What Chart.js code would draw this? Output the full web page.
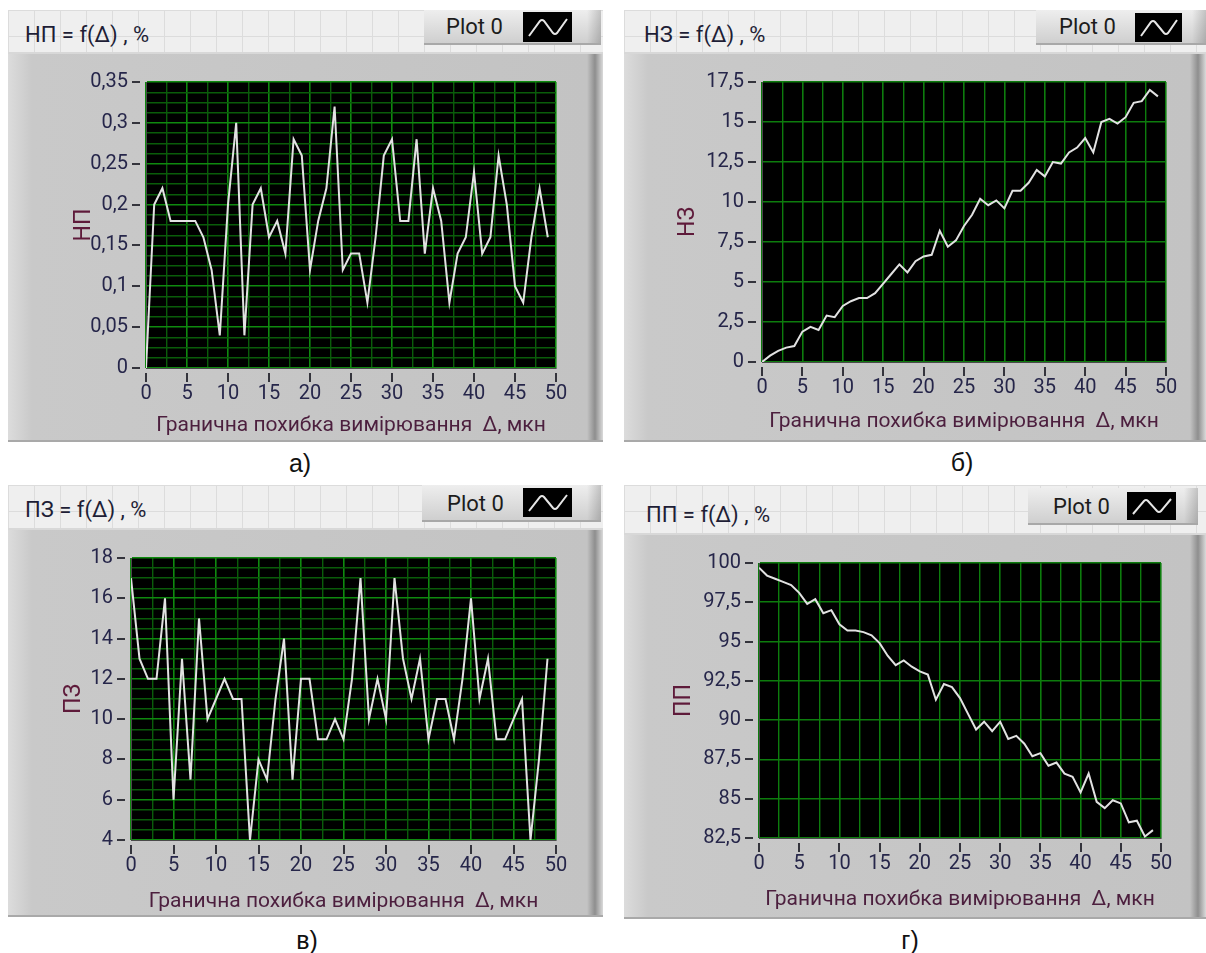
<!DOCTYPE html>
<html>
<head>
<meta charset="utf-8">
<script src="https://cdn.jsdelivr.net/npm/chart.js@4.4.0/dist/chart.umd.min.js"></script>
<style>
  body { margin: 0; width: 1206px; height: 953px; background: #fff; position: relative; overflow: hidden; font-family: Roboto, 'Noto Sans', sans-serif; }
  .head, .frame, .legend, .icon, .title, .tag, canvas { position: absolute; }
  .head {
    background-color: #efefef;
    background-image: linear-gradient(#dcdcdc 1px, transparent 1px), linear-gradient(90deg, #dcdcdc 1px, transparent 1px);
    background-size: 26px 26px;
  }
  .frame {
    background: linear-gradient(90deg, #dcdcdc 0, #c9c9c9 24px, #c3c3c3 calc(100% - 16px), #a2a2a2 calc(100% - 11px), #8e8e8e calc(100% - 8px), #dadada 100%);
    border-top: 2px solid #d8d8d8;
    box-sizing: border-box;
    box-shadow: 0 2px 0 #a9a9a9;
  }
  .legend {
    background: linear-gradient(90deg, rgba(0,0,0,0) 0, rgba(0,0,0,0) calc(100% - 14px), rgba(0,0,0,0.18) 100%), linear-gradient(#eeeeee, #cfcfcf);
    border-bottom: 2px solid #a8a8a8;
    box-sizing: border-box;
    font-size: 22px; color: #1c1c1c; line-height: 33px;
  }
  .legend span { position: absolute; }
  .icon { background: #000; }
  .title { font-size: 22px; color: #1e1e36; line-height: 26px; white-space: nowrap; }
  .tag { font-family: 'Liberation Sans', sans-serif; font-size: 25px; color: #111; line-height: 30px; transform: translate(-50%, -50%); }
</style>
</head>
<body>

<!-- panel а) -->
<div class="head" style="left:8px;top:10px;width:595px;height:42px"></div>
<div class="frame" style="left:8px;top:52px;width:595px;height:388px"></div>
<div class="title" style="left:25px;top:22px">НП = f(Δ) , %</div>
<div class="legend" style="left:424px;top:10px;width:177px;height:35px"><span style="left:22px">Plot 0</span></div>
<svg class="icon" style="left:523px;top:12px" width="49" height="30"><path d="M6 24 L17 9 Q19 7 21 9 L30 21 Q32 23 34 21 L44 7" stroke="#e6e6e6" stroke-width="2" fill="none"/></svg>
<canvas id="cNP" style="left:8px;top:52px" width="595" height="388"></canvas>
<div class="tag" style="left:300px;top:463px">а)</div>

<!-- panel б) -->
<div class="head" style="left:624px;top:10px;width:582px;height:42px"></div>
<div class="frame" style="left:624px;top:52px;width:582px;height:388px"></div>
<div class="title" style="left:644px;top:22px">НЗ = f(Δ) , %</div>
<div class="legend" style="left:1036px;top:10px;width:170px;height:35px"><span style="left:23px">Plot 0</span></div>
<svg class="icon" style="left:1135px;top:13px" width="47" height="29"><path d="M6 23 L16 9 Q18 7 20 9 L29 20 Q31 22 33 20 L42 7" stroke="#e6e6e6" stroke-width="2" fill="none"/></svg>
<canvas id="cNZ" style="left:624px;top:52px" width="582" height="388"></canvas>
<div class="tag" style="left:962px;top:462px">б)</div>

<!-- panel в) -->
<div class="head" style="left:8px;top:485px;width:595px;height:43px"></div>
<div class="frame" style="left:8px;top:528px;width:595px;height:387px"></div>
<div class="title" style="left:25px;top:497px">ПЗ = f(Δ) , %</div>
<div class="legend" style="left:422px;top:485px;width:179px;height:37px"><span style="left:25px;top:2px">Plot 0</span></div>
<svg class="icon" style="left:523px;top:488px" width="49" height="29"><path d="M6 23 L17 9 Q19 7 21 9 L30 20 Q32 22 34 20 L44 7" stroke="#e6e6e6" stroke-width="2" fill="none"/></svg>
<canvas id="cPZ" style="left:8px;top:528px" width="595" height="387"></canvas>
<div class="tag" style="left:307px;top:940px">в)</div>

<!-- panel г) -->
<div class="head" style="left:624px;top:485px;width:582px;height:48px"></div>
<div class="frame" style="left:624px;top:533px;width:582px;height:384px"></div>
<div class="title" style="left:646px;top:502px">ПП = f(Δ) , %</div>
<div class="legend" style="left:1028px;top:488px;width:170px;height:37px"><span style="left:25px;top:2px">Plot 0</span></div>
<svg class="icon" style="left:1127px;top:492px" width="49" height="28"><path d="M6 22 L17 9 Q19 7 21 9 L30 19 Q32 21 34 19 L44 7" stroke="#e6e6e6" stroke-width="2" fill="none"/></svg>
<canvas id="cPP" style="left:624px;top:533px" width="582" height="384"></canvas>
<div class="tag" style="left:910px;top:940px">г)</div>

<script>
// x values (гранична похибка, мкн) and x tick labels
const deltaX = [0, 1, 2, 3, 4, 5, 6, 7, 8, 9, 10, 11, 12, 13, 14, 15, 16, 17, 18, 19, 20, 21, 22, 23, 24,
                25, 26, 27, 28, 29, 30, 31, 32, 33, 34, 35, 36, 37, 38, 39, 40, 41, 42, 43, 44, 45, 46, 47, 48, 49];
const xTickLabels = [0, 5, 10, 15, 20, 25, 30, 35, 40, 45, 50];

// НП
const npValues = [0, 0.2, 0.22, 0.18, 0.18, 0.18, 0.18, 0.16, 0.12, 0.04, 0.2, 0.3, 0.04, 0.2, 0.22, 0.16, 0.18, 0.14, 0.28, 0.26,
                  0.12, 0.18, 0.22, 0.32, 0.12, 0.14, 0.14, 0.08, 0.16, 0.26, 0.28, 0.18, 0.18, 0.28, 0.14, 0.22, 0.18, 0.08, 0.14, 0.16,
                  0.24, 0.14, 0.16, 0.26, 0.2, 0.1, 0.08, 0.16, 0.22, 0.16];
const npTicks = [0, 0.05, 0.1, 0.15, 0.2, 0.25, 0.3, 0.35];

// НЗ
const nzValues = [0, 0.4, 0.7, 0.9, 1.0, 1.9, 2.2, 2.0, 2.9, 2.8, 3.5, 3.8, 4.0, 4.0, 4.3, 4.9, 5.5, 6.1, 5.6, 6.3,
                  6.6, 6.7, 8.2, 7.2, 7.6, 8.5, 9.2, 10.2, 9.8, 10.1, 9.6, 10.7, 10.7, 11.2, 12.0, 11.6, 12.5, 12.4, 13.1, 13.4,
                  14.0, 13.1, 15.0, 15.2, 14.9, 15.3, 16.2, 16.3, 17.0, 16.6];
const nzTicks = [0, 2.5, 5, 7.5, 10, 12.5, 15, 17.5];

// ПЗ
const pzValues = [17, 13, 12, 12, 16, 6, 13, 7, 15, 10, 11, 12, 11, 11, 4, 8, 7, 11, 14, 7,
                  12, 12, 9, 9, 10, 9, 12, 17, 10, 12, 10, 17, 13, 11, 13, 9, 11, 11, 9, 12,
                  16, 11, 13, 9, 9, 10, 11, 4, 8, 13];
const pzTicks = [4, 6, 8, 10, 12, 14, 16, 18];

// ПП
const ppValues = [99.7, 99.2, 99.0, 98.8, 98.6, 98.1, 97.4, 97.7, 96.8, 97.0, 96.1, 95.7, 95.7, 95.6, 95.4, 94.9, 94.1, 93.5, 93.8, 93.4,
                  93.1, 92.9, 91.3, 92.3, 92.1, 91.4, 90.4, 89.4, 89.9, 89.3, 89.9, 88.8, 89.0, 88.5, 87.7, 87.9, 87.1, 87.3, 86.6, 86.4,
                  85.4, 86.6, 84.8, 84.4, 84.9, 84.7, 83.5, 83.6, 82.6, 83.0];
const ppTicks = [82.5, 85, 87.5, 90, 92.5, 95, 97.5, 100];

const xTitle = 'Гранична похибка вимірювання  Δ, мкн';
const tickColor = '#26264a';
const fontFamily = "Roboto, 'Noto Sans', sans-serif";
const gridMajor = '#0f8a0f';
const gridMinor = '#0a5c0a';
const gridPlain = '#0d7c0d';

function isMajor(v, list) {
  return list.some(t => Math.abs(t - v) < 1e-6);
}
function fmt(v) {
  return String(Math.round(v * 1000) / 1000).replace('.', ',');
}

// black plot area
const plotBg = {
  id: 'plotBg',
  beforeDraw(chart) {
    const a = chart.chartArea, c = chart.ctx;
    c.save();
    c.fillStyle = '#000';
    c.fillRect(a.left, a.top, a.right - a.left, a.bottom - a.top);
    c.restore();
  }
};

// LabVIEW style tick dashes, set a bit away from the plot
const tickMarks = {
  id: 'tickMarks',
  afterDraw(chart, args, opts) {
    const {ctx, chartArea: a, scales: {x, y}} = chart;
    ctx.save();
    ctx.strokeStyle = '#34343c';
    ctx.lineWidth = 2;
    ctx.beginPath();
    xTickLabels.forEach(v => {
      const px = Math.round(x.getPixelForValue(v));
      ctx.moveTo(px, a.bottom + 5);
      ctx.lineTo(px, a.bottom + 14);
    });
    opts.yTicks.forEach(v => {
      const py = Math.round(y.getPixelForValue(v));
      ctx.moveTo(a.left - 14, py);
      ctx.lineTo(a.left - 6, py);
    });
    ctx.stroke();
    ctx.restore();
  }
};

function makeChart(id, values, yTicks, yMin, yMax, yStep, yTitle, box, fineGrid) {
  const points = deltaX.map((d, i) => ({x: d, y: values[i]}));
  const canvas = document.getElementById(id);
  const W = canvas.width, H = canvas.height;
  const xMajor = c => c.tick && c.tick.value % 5 === 0;
  const yMajor = c => c.tick && isMajor(c.tick.value, yTicks);
  return new Chart(canvas.getContext('2d'), {
    type: 'line',
    data: {
      datasets: [{
        label: 'Plot 0',
        data: points,
        borderColor: '#e2e2e2',
        borderWidth: 2,
        pointRadius: 0,
        tension: 0,
        fill: false
      }]
    },
    options: {
      responsive: false,
      animation: false,
      events: [],
      layout: {padding: {left: 0, top: box.top, right: W - box.right, bottom: 0}},
      plugins: {
        legend: {display: false},
        tooltip: {enabled: false},
        tickMarks: {yTicks: yTicks}
      },
      scales: {
        x: {
          type: 'linear',
          min: 0,
          max: 50,
          afterFit: s => { s.height = H - box.bottom; },
          border: {color: '#4a4a4a', width: 1},
          grid: {
            drawTicks: false,
            lineWidth: c => xMajor(c) ? 1.6 : 1.4,
            color: c => fineGrid ? (xMajor(c) ? gridMajor : gridMinor) : gridPlain
          },
          ticks: {
            stepSize: 2.5,
            autoSkip: false,
            maxRotation: 0,
            padding: 14,
            color: tickColor,
            font: {family: fontFamily, size: 20},
            callback: v => isMajor(v, xTickLabels) ? String(v) : ''
          },
          title: {
            display: true,
            text: xTitle,
            color: '#4c1f3e',
            font: {family: fontFamily, size: 21},
            padding: {top: 0, bottom: box.xTitlePad}
          }
        },
        y: {
          min: yMin,
          max: yMax,
          afterFit: s => { s.width = box.left; },
          border: {color: '#4a4a4a', width: 1},
          grid: {
            drawTicks: false,
            lineWidth: c => yMajor(c) ? 1.6 : 1.4,
            color: c => fineGrid ? (yMajor(c) ? gridMajor : gridMinor) : gridPlain
          },
          ticks: {
            stepSize: yStep,
            autoSkip: false,
            padding: 18,
            color: tickColor,
            font: {family: fontFamily, size: 20},
            callback: v => isMajor(v, yTicks) ? fmt(v) : ''
          },
          title: {
            display: true,
            text: yTitle,
            color: '#5e1a3a',
            font: {family: fontFamily, size: 23},
            padding: {top: box.yTitlePad, bottom: 0}
          }
        }
      }
    },
    plugins: [plotBg, tickMarks]
  });
}

// plot rectangles inside each canvas
const boxNP = {left: 138, top: 20, right: 548, bottom: 316, yTitlePad: 62, xTitlePad: 2};
const boxNZ = {left: 138, top: 18, right: 542, bottom: 310, yTitlePad: 50, xTitlePad: 6};
const boxPZ = {left: 123, top: 18, right: 548, bottom: 312, yTitlePad: 52, xTitlePad: 1};
const boxPP = {left: 135, top: 17, right: 537, bottom: 305, yTitlePad: 46, xTitlePad: 5};

makeChart('cNP', npValues, npTicks, 0, 0.35, 0.0125, 'НП', boxNP, true);
makeChart('cNZ', nzValues, nzTicks, 0, 17.5, 2.5, 'НЗ', boxNZ, false);
makeChart('cPZ', pzValues, pzTicks, 4, 18, 0.5, 'ПЗ', boxPZ, true);
makeChart('cPP', ppValues, ppTicks, 82.5, 100, 2.5, 'ПП', boxPP, false);
</script>
</body>
</html>
